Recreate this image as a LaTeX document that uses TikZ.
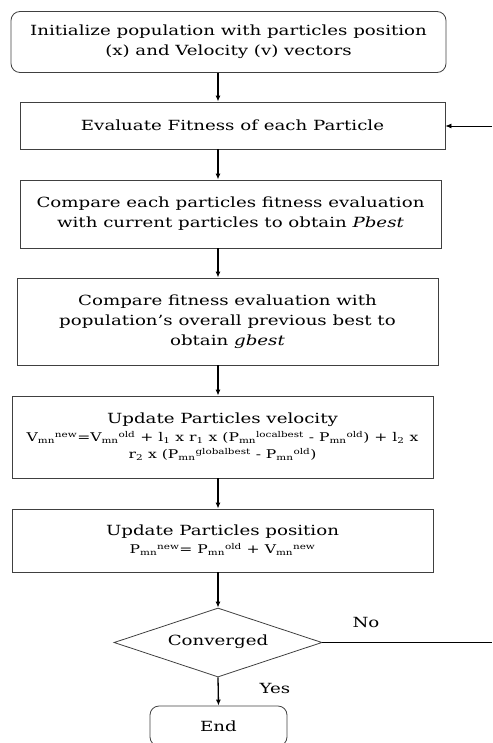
\documentclass[tikz,border=0pt]{standalone}
\usepackage{fontspec}
\setmainfont[FakeStretch=1.3]{DejaVu Serif}
\usetikzlibrary{shapes.geometric,arrows.meta}
\newcommand{\sbp}[2]{\textsubscript{#1}\textsuperscript{#2}}
\begin{document}
\begin{tikzpicture}[x=1pt,y=-1pt,
  box/.style={draw=black!75,line width=0.8pt,align=center,inner sep=0pt,font=\fontsize{14}{20}\selectfont},
  rbox/.style={box,rounded corners=9pt},
  arr/.style={-{Latex[length=6pt,width=5pt]},line width=1.3pt},
  lbl/.style={font=\fontsize{14}{16}\selectfont}]
\useasboundingbox (0,0) rectangle (492,743);
\node[rbox,minimum width=435pt,minimum height=61pt] (b1) at (228.5,42) {Initialize population with particles position\\(x) and Velocity (v) vectors};
\node[box,minimum width=425pt,minimum height=47pt] (b2) at (232.5,125.5) {Evaluate Fitness of each Particle};
\node[box,minimum width=421pt,minimum height=68pt] (b3) at (230.5,214) {Compare each particles fitness evaluation\\with current particles to obtain \textit{Pbest}};
\node[box,minimum width=421pt,minimum height=87pt] (b4) at (227.5,321.5) {Compare fitness evaluation with\\population’s overall previous best to\\obtain \textit{gbest}};
\node[box,minimum width=421pt,minimum height=82pt] (b5) at (222.5,437) {Update Particles velocity\\[-2pt]{\fontsize{12}{18}\selectfont V\sbp{mn}{new}=V\sbp{mn}{old} + l\textsubscript{1} x r\textsubscript{1} x (P\sbp{mn}{localbest} - P\sbp{mn}{old}) + l\textsubscript{2} x}\\[-3pt]{\fontsize{12}{18}\selectfont r\textsubscript{2} x (P\sbp{mn}{globalbest} - P\sbp{mn}{old})}};
\node[box,minimum width=421pt,minimum height=63pt] (b6) at (222.5,540.5) {Update Particles position\\[-2pt]{\fontsize{12}{18}\selectfont P\sbp{mn}{new}= P\sbp{mn}{old} + V\sbp{mn}{new}}};
\node[diamond,aspect=3,draw=black!75,line width=0.8pt,minimum width=208pt,minimum height=69pt,inner sep=0pt,font=\fontsize{14}{16}\selectfont] (d) at (218,642.5) {\raisebox{5pt}{Converged}};
\node[rbox,minimum width=137pt,minimum height=40pt] (e) at (218.5,726) {End};
\coordinate (cx) at (218,0);
\coordinate (r1) at (492,126);
\coordinate (r2) at (492,642.5);
\draw[arr] (b1.south -| cx) -- (b2.north -| cx);
\draw[arr] (b2.south -| cx) -- (b3.north -| cx);
\draw[arr] (b3.south -| cx) -- (b4.north -| cx);
\draw[arr] (b4.south -| cx) -- (b5.north -| cx);
\draw[arr] (b5.south -| cx) -- (b6.north -| cx);
\draw[arr] (b6.south -| cx) -- (d.north);
\draw[arr] (d.south) -- (e.north);
\draw[line width=0.8pt] (d.east) -- (r2);
\draw[arr,line width=0.8pt] (r1) -- (r1 -| b2.east);
\node[lbl] (no) at (366,622) {No};
\node[lbl] (yes) at (275,688) {Yes};
\end{tikzpicture}
\end{document}
